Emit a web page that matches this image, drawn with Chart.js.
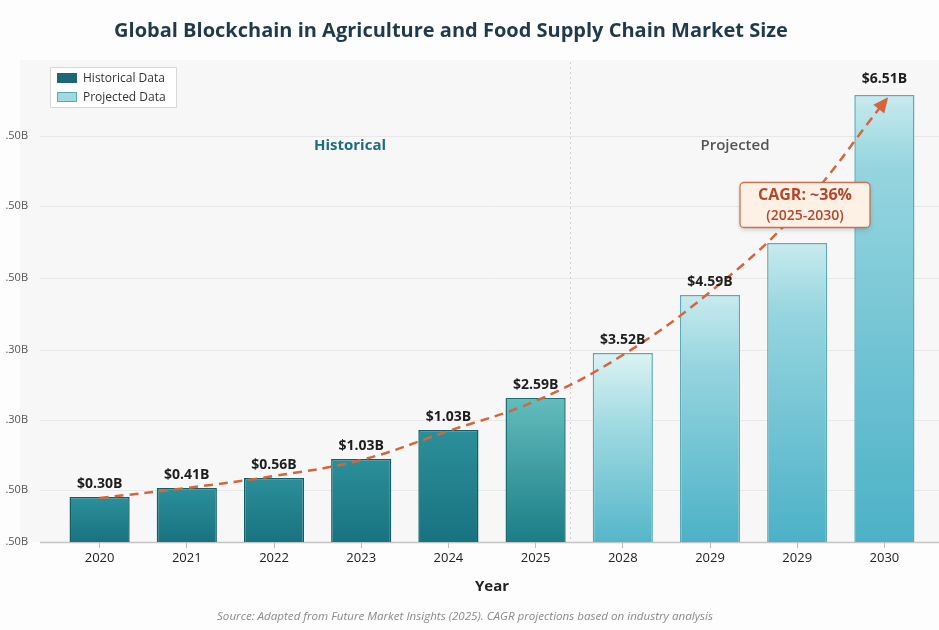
<!DOCTYPE html>
<html><head><meta charset="utf-8">
<script src="https://cdn.jsdelivr.net/npm/chart.js@4.4.1/dist/chart.umd.min.js"></script>
<style>
html,body{margin:0;padding:0;background:#fdfdfd;}
#wrap{position:relative;width:939px;height:630px;overflow:hidden;font-family:"Open Sans",sans-serif;}
#title{position:absolute;left:0;top:16px;width:902px;text-align:center;font-size:20px;font-weight:700;color:#1f3a4b;line-height:28px;}
#source{position:absolute;left:0;top:608px;width:930px;text-align:center;font-size:11.6px;font-style:italic;color:#8a8a8a;line-height:16px;}
canvas{position:absolute;left:0;top:0;}
</style></head><body>
<div id="wrap">
<canvas id="c" width="939" height="630"></canvas>
<div id="title">Global Blockchain in Agriculture and Food Supply Chain Market Size</div>
<div id="source">Source: Adapted from Future Market Insights (2025). CAGR projections based on industry analysis</div>
</div>
<script>
// ---- data (bar heights read in the picture's axis units) ----
const categories = ['2020','2021','2022','2023','2024','2025','2028','2029','2029','2030'];
const barHeights = [0.45, 0.54, 0.64, 0.83, 1.12, 1.44, 1.89, 2.47, 2.99, 4.47];
const barLabels = ['$0.30B','$0.41B','$0.56B','$1.03B','$1.03B','$2.59B','$3.52B','$4.59B','','$6.51B'];
const trendValues = [0.44, 0.54, 0.66, 0.82, 1.11, 1.41, 1.87, 2.50, 3.30, 4.40];
const yTickValues = [0, 0.52, 1.22, 1.92, 2.64, 3.36, 4.06];
const yTickLabels = ['.50B','.50B','.30B','.30B','.50B','.50B','.50B'];
const historicalCount = 6;

const FONT = '"Open Sans", sans-serif';

function barStops(i, hPx){
  if(i<5) return [[0,'#2b8f9a'],[1,'#187380']];
  if(i===5) return [[0,'#62bdbc'],[1,'#1b7d87']];
  const f = Math.min(0.35, 70/hPx);
  if(i===6) return [[0,'#dcf3f3'],[f,'#a4dce3'],[1,'#55b6c9']];
  return [[0,'#c8eaee'],[f,'#96d5df'],[1,'#4cb1c7']];
}
function barBorder(i){
  if(i<5) return '#125d69';
  if(i===5) return '#1b6d75';
  return '#5aabb6';
}
function barFill(ctx){
  const chart = ctx.chart, ca = chart.chartArea, sy = chart.scales.y;
  const i = ctx.dataIndex;
  if(!ca || !sy || ctx.type!=='data') return '#4cb1c7';
  const yTop = sy.getPixelForValue(barHeights[i]), yBot = sy.getPixelForValue(0);
  if(!isFinite(yTop)||!isFinite(yBot)||yTop===yBot) return '#4cb1c7';
  const g = chart.ctx.createLinearGradient(0,yTop,0,yBot);
  barStops(i, yBot-yTop).forEach(s=>g.addColorStop(s[0],s[1]));
  return g;
}

const decor = {
  id:'decor',
  beforeDraw(chart){
    const {ctx, chartArea:ca, scales:{x,y}} = chart;
    ctx.save();
    ctx.fillStyle = '#f8f7f7';
    ctx.fillRect(20, ca.top-2, chart.width-20, ca.bottom-ca.top+2);
    ctx.strokeStyle = '#e9e7e7'; ctx.lineWidth = 1;
    yTickValues.forEach((v,i)=>{
      if(i===0) return;
      const py = Math.round(y.getPixelForValue(v))+0.5;
      ctx.beginPath(); ctx.moveTo(40,py); ctx.lineTo(chart.width,py); ctx.stroke();
    });
    // divider between historical and projected
    const a = x.getPixelForValue(historicalCount-1), b = x.getPixelForValue(historicalCount);
    const dx = Math.round(a + (b-a)*0.4)+0.5;
    ctx.strokeStyle = '#cfcfcf'; ctx.setLineDash([2,3]);
    ctx.beginPath(); ctx.moveTo(dx, ca.top); ctx.lineTo(dx, ca.bottom); ctx.stroke();
    ctx.setLineDash([]);
    // baseline
    ctx.strokeStyle = '#c4c4c4'; ctx.lineWidth = 1.5;
    const by = y.getPixelForValue(0)+0.5;
    ctx.beginPath(); ctx.moveTo(40,by); ctx.lineTo(chart.width,by); ctx.stroke();
    ctx.restore();
  },
  afterDatasetsDraw(chart){
    const {ctx, chartArea:ca} = chart;
    ctx.save();
    // value labels
    const bars = chart.getDatasetMeta(0).data;
    ctx.font = 'bold 14px '+FONT; ctx.fillStyle = '#1e1e1e';
    ctx.textAlign = 'center'; ctx.textBaseline = 'middle';
    bars.forEach((b,i)=>{
      if(!barLabels[i]) return;
      const off = i===9 ? 16 : 13;
      ctx.fillText(barLabels[i], b.x, b.y-off);
    });
    // arrowhead at the end of trend line
    const pts = chart.getDatasetMeta(1).data;
    const last = pts[pts.length-1];
    let dxv = last.x - (last.cp1x ?? pts[pts.length-2].x), dyv = last.y - (last.cp1y ?? pts[pts.length-2].y);
    const len = Math.hypot(dxv,dyv)||1; dxv/=len; dyv/=len;
    const tipX = last.x + dxv*6, tipY = last.y + dyv*6;
    const bx = tipX - dxv*15, byy = tipY - dyv*15;
    ctx.fillStyle = '#d4653a';
    ctx.beginPath();
    ctx.moveTo(tipX, tipY);
    ctx.lineTo(bx - dyv*7, byy + dxv*7);
    ctx.lineTo(bx + dyv*7, byy - dxv*7);
    ctx.closePath(); ctx.fill();
    // region labels
    ctx.font = 'bold 15px '+FONT; ctx.fillStyle = '#1d6e7a';
    ctx.fillText('Historical', 350, ca.top+84);
    ctx.font = '600 15px '+FONT; ctx.fillStyle = '#555';
    ctx.fillText('Projected', 735, ca.top+84);
    // CAGR box
    const cx = 805, cy = 205, w = 130, h = 45;
    ctx.shadowColor = 'rgba(0,0,0,0.18)'; ctx.shadowBlur = 5; ctx.shadowOffsetY = 2;
    ctx.fillStyle = '#fdf1e6';
    ctx.beginPath(); ctx.roundRect(cx-w/2, cy-h/2, w, h, 4); ctx.fill();
    ctx.shadowColor = 'transparent';
    ctx.strokeStyle = '#c97250'; ctx.lineWidth = 1.3; ctx.stroke();
    ctx.fillStyle = '#b4472b';
    ctx.font = 'bold 16px '+FONT; ctx.fillText('CAGR: ~36%', cx, cy-10);
    ctx.font = '600 14px '+FONT; ctx.fillText('(2025-2030)', cx, cy+11);
    // legend
    ctx.fillStyle = '#ffffff'; ctx.strokeStyle = '#d8d8d8'; ctx.lineWidth = 1;
    ctx.beginPath(); ctx.rect(50.5, 67.5, 126, 40); ctx.fill(); ctx.stroke();
    ctx.fillStyle = '#1b6778'; ctx.fillRect(57, 73, 20, 10);
    ctx.fillStyle = '#a0dae0'; ctx.fillRect(57, 92, 20, 10);
    ctx.strokeStyle = '#5aaab5'; ctx.strokeRect(57.5, 92.5, 19, 9);
    ctx.fillStyle = '#333'; ctx.font = '12px '+FONT; ctx.textAlign = 'left';
    ctx.fillText('Historical Data', 83, 78.5);
    ctx.fillText('Projected Data', 83, 97.5);
    ctx.restore();
  }
};

new Chart(document.getElementById('c'), {
  data: {
    labels: categories,
    datasets: [
      { type:'bar', data: barHeights, order: 2,
        backgroundColor: barFill,
        borderColor: (c)=>barBorder(c.dataIndex||0),
        borderWidth: 1.5, borderSkipped: 'bottom',
        barPercentage: 0.69, categoryPercentage: 1 },
      { type:'line', data: trendValues, order: 1,
        borderColor: '#d3663d', borderWidth: 2.5, borderDash: [9,6],
        pointRadius: 0, tension: 0.4, fill: false, clip: false }
    ]
  },
  options: {
    responsive: false, animation: false,
    layout: { padding: { top: 62, left: 0, right: 11, bottom: 28 } },
    plugins: { legend: { display: false }, tooltip: { enabled: false } },
    scales: {
      x: {
        grid: { display: true, drawOnChartArea: false, drawTicks: true, tickLength: 6, offset: false, color: '#bdbdbd' },
        border: { display: false },
        ticks: { color: '#222', font: { size: 13, family: FONT }, padding: 2, maxRotation: 0, autoSkip: false },
        title: { display: true, text: 'Year', color: '#222', font: { size: 15, weight: 'bold', family: FONT }, padding: { top: 4, bottom: 6 } },
        afterFit(s){ s.height = 60; }
      },
      y: {
        min: 0, max: 4.8,
        grid: { display: false },
        border: { display: false },
        afterBuildTicks(s){ s.ticks = yTickValues.map(v=>({value:v})); },
        ticks: { color: '#555', font: { size: 11, family: FONT }, padding: 20,
                 callback: (v, i) => yTickLabels[i] },
        afterFit(s){ s.width = 56; }
      }
    }
  },
  plugins: [decor]
});
</script>
</body></html>
